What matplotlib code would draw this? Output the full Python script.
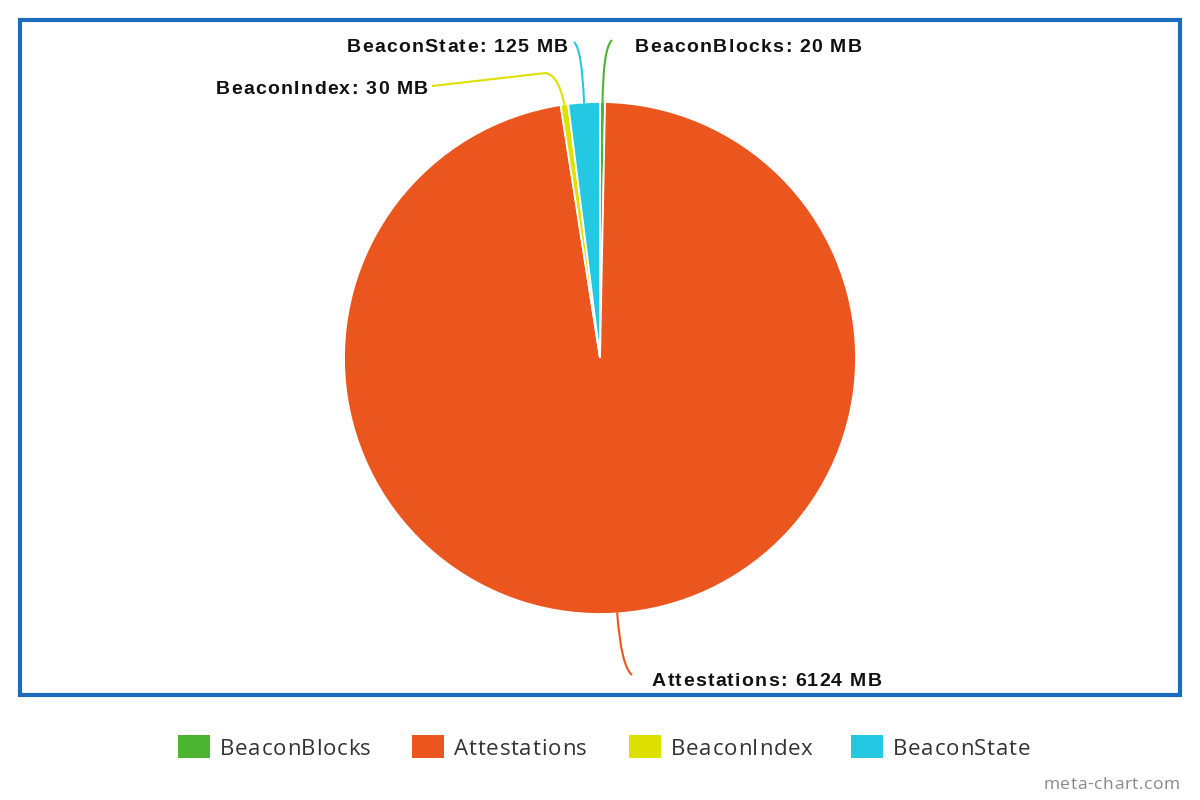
import numpy as np
import matplotlib.pyplot as plt
from matplotlib.patches import Rectangle, PathPatch
from matplotlib.path import Path

categories = ["BeaconBlocks", "Attestations", "BeaconIndex", "BeaconState"]
sizes_mb = [20, 6124, 30, 125]
colors = ["#4db432", "#eb561e", "#dde000", "#25c8e3"]

W, H = 1200, 800
fig = plt.figure(figsize=(12, 8), dpi=100)
ax = fig.add_axes([0, 0, 1, 1])


def Y(y):
    return H - y


renderer = fig.canvas.get_renderer()


def text_width(s, **kw):
    t = ax.text(0, 0, s, **kw)
    w = t.get_window_extent(renderer).width
    t.remove()
    return w


def tracked_text(x, y, s, tracking, ha="left", **kw):
    # draw text char by char with extra letter spacing (px)
    ref = text_width("x", **kw)
    offs = [text_width(s[:i] + "x", **kw) - ref + i * tracking for i in range(len(s))]
    total = text_width(s, **kw) + (len(s) - 1) * tracking
    x0 = x - total if ha == "right" else x
    for ch, o in zip(s, offs):
        if ch != " ":
            ax.text(x0 + o, Y(y), ch, ha="left", va="baseline", **kw)


cx, cy, R = 600, 358, 256
ax.pie(sizes_mb, colors=colors, startangle=90, counterclock=False,
       center=(cx, Y(cy)), radius=R,
       wedgeprops=dict(ec="white", lw=1.3), frame=True)
ax.set_xlim(0, W)
ax.set_ylim(0, H)
ax.set_aspect("equal")
ax.axis("off")

# frame
ax.add_patch(Rectangle((20, Y(695)), 1160, 675, fill=False, ec="#1a6dbd", lw=3))

# leader lines + labels
layout = {
    "BeaconBlocks": dict(bend=(603, 48), end=(612, 40), txt=(635, 52), ha="left"),
    "BeaconState": dict(bend=(582, 49), end=(574, 42), txt=(568, 52), ha="right"),
    "BeaconIndex": dict(bend=(559, 76), end=(546, 73), txt=(428, 94), ha="right",
                        tail=(432, 86)),
    "Attestations": dict(bend=(621, 666), end=(632, 675), txt=(652, 686), ha="left"),
}
lab_kw = dict(fontsize=14, fontweight="bold", family="Liberation Sans", color="#111111")

total = sum(sizes_mb)
cum = 0
for name, v, c in zip(categories, sizes_mb, colors):
    mid = (cum + v / 2) / total * 2 * np.pi
    cum += v
    sx, sy = cx + (R - 1) * np.sin(mid), cy - (R - 1) * np.cos(mid)
    L = layout[name]
    bx, by = L["bend"]
    ex, ey = L["end"]
    verts = [(sx, Y(sy)), (bx, Y(by)), (ex, Y(ey))]
    codes = [Path.MOVETO, Path.CURVE3, Path.CURVE3]
    if "tail" in L:
        verts.append((L["tail"][0], Y(L["tail"][1])))
        codes.append(Path.LINETO)
    ax.add_patch(PathPatch(Path(verts, codes), fill=False, ec=c, lw=1.5))
    tx, ty = L["txt"]
    tracked_text(tx, ty, f"{name}: {v} MB", 1.3, ha=L["ha"], **lab_kw)

# legend
leg_x = [178, 412, 629, 851]
leg_kw = dict(fontsize=16, family="Open Sans", color="#333333")
for name, c, x0 in zip(categories, colors, leg_x):
    ax.add_patch(Rectangle((x0, Y(758)), 32, 23.5, fc=c, ec="none"))
    tracked_text(x0 + 42, 755, name, 0.7, **leg_kw)

tracked_text(1180, 789, "meta-chart.com", 0.6, ha="right",
             fontsize=12.5, family="Open Sans", color="#888888")

fig.savefig("out.png", dpi=100)
